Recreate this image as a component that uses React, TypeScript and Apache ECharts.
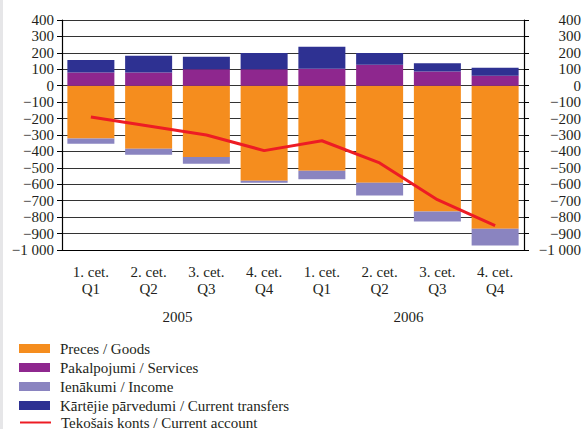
import React, { useEffect, useRef } from "react";
import * as echarts from "echarts";

const quartersLv = ["1. cet.", "2. cet.", "3. cet.", "4. cet.", "1. cet.", "2. cet.", "3. cet.", "4. cet."];
const quartersEn = ["Q1", "Q2", "Q3", "Q4", "Q1", "Q2", "Q3", "Q4"];
const years = ["2005", "2006"];

const goods = [-322, -383, -434, -578, -517, -590, -765, -870];
const services = [80, 80, 100, 100, 103, 128, 87, 61];
const income = [-31, -37, -41, -12, -53, -78, -61, -102];
const transfers = [76, 103, 76, 99, 134, 71, 49, 49];
const currentAccount = [-190, -245, -300, -395, -335, -470, -694, -852];

const names = [
  "Preces / Goods",
  "Pakalpojumi / Services",
  "Ienākumi / Income",
  "Kārtējie pārvedumi / Current transfers",
  "Tekošais konts / Current account",
];

const FONT = "Liberation Serif";
const TXT = "#231F20";

const fmt = (v: number) => {
  const a = Math.abs(v);
  const s = a >= 1000 ? Math.floor(a / 1000) + " " + String(a % 1000).padStart(3, "0") : String(a);
  return (v < 0 ? "\u2212" : "") + s;
};

export default function App() {
  const ref = useRef<HTMLDivElement>(null);
  useEffect(() => {
    document.body.style.margin = "0";
    const chart = echarts.init(ref.current!, null, { renderer: "svg" });
    const cats = quartersLv.map((q, i) => q + "\n" + quartersEn[i]);
    const yCommon = {
      type: "value" as const,
      min: -1000,
      max: 400,
      interval: 100,
      axisLine: { show: true, lineStyle: { color: "#000", width: 1.2 } },
      axisTick: { show: true, length: 5, lineStyle: { color: "#000" } },
    };
    const legendText = { fontFamily: FONT, fontSize: 15, color: TXT, lineHeight: 15, padding: [0, 0, 0, 5] };
    chart.setOption({
      animation: false,
      backgroundColor: "#fff",
      textStyle: { fontFamily: FONT, color: TXT },
      graphic: [
        { type: "rect", left: 0, top: 0, shape: { width: 3, height: 429 }, style: { fill: "#e6e6e8" }, silent: true },
      ],
      grid: { left: 62, right: 56, top: 20, bottom: 179 },
      legend: [
        {
          orient: "vertical",
          left: 14,
          top: 336,
          itemWidth: 31,
          itemHeight: 9,
          itemGap: 4,
          textStyle: legendText,
          data: [
            { name: names[0], icon: "rect" },
            { name: names[1], icon: "rect" },
            { name: names[2], icon: "rect" },
            { name: names[3], icon: "rect" },
          ],
        },
        {
          orient: "vertical",
          left: 14,
          top: 410,
          itemWidth: 31,
          itemHeight: 9,
          textStyle: legendText,
          data: [{ name: names[4], itemStyle: { opacity: 0 } }],
        },
      ],
      xAxis: [
        {
          type: "category",
          data: cats,
          position: "bottom",
          axisLine: { onZero: false, lineStyle: { color: "#000", width: 1.2 } },
          axisTick: { alignWithLabel: true, length: 7, lineStyle: { color: "#000" } },
          axisLabel: { fontFamily: FONT, fontSize: 15, color: TXT, margin: 13, lineHeight: 17 },
        },
        {
          type: "category",
          data: years,
          position: "bottom",
          offset: 55,
          axisLine: { show: false },
          axisTick: { show: false },
          axisLabel: { fontFamily: FONT, fontSize: 15, color: TXT, margin: 4 },
        },
      ],
      yAxis: [
        {
          ...yCommon,
          position: "left",
          axisLabel: { fontFamily: FONT, fontSize: 15, color: TXT, margin: 8, formatter: fmt },
          splitLine: { show: true, lineStyle: { color: "#333", width: 1.2 } },
        },
        {
          ...yCommon,
          position: "right",
          axisLabel: { fontFamily: FONT, fontSize: 15, color: TXT, margin: 57, align: "right", formatter: fmt },
          splitLine: { show: false },
        },
      ],
      series: [
        { name: names[0], type: "bar", stack: "a", data: goods, barWidth: 47, itemStyle: { color: "#F58D1E" } },
        { name: names[1], type: "bar", stack: "a", data: services, barWidth: 47, itemStyle: { color: "#8E278E" } },
        { name: names[2], type: "bar", stack: "a", data: income, barWidth: 47, itemStyle: { color: "#8A84C0" } },
        { name: names[3], type: "bar", stack: "a", data: transfers, barWidth: 47, itemStyle: { color: "#2E3192" } },
        {
          name: names[4],
          type: "line",
          data: currentAccount,
          symbol: "none",
          lineStyle: { color: "#ED1C24", width: 3 },
          itemStyle: { color: "#ED1C24" },
          z: 5,
        },
      ],
    });
    return () => chart.dispose();
  }, []);
  return <div ref={ref} style={{ width: 584, height: 429 }} />;
}
